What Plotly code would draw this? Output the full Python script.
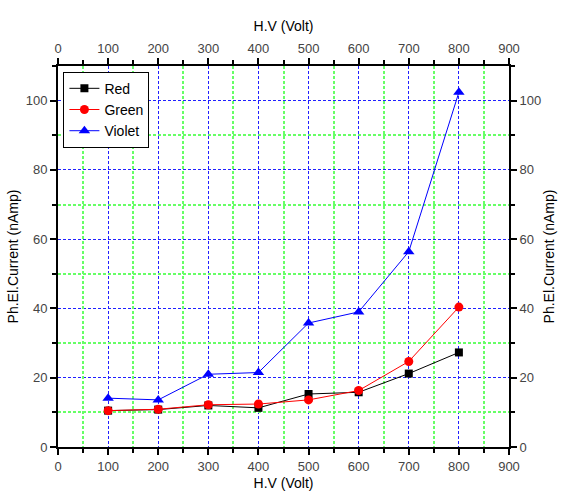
import plotly.graph_objects as go

hv = [100, 200, 300, 400, 500, 600, 700, 800]
red = [10.5, 10.8, 12.0, 11.3, 15.3, 15.8, 21.2, 27.3]
green = [10.5, 10.9, 12.2, 12.4, 13.6, 16.3, 24.7, 40.4]
violet = [14.1, 13.6, 21.0, 21.5, 35.8, 39.0, 56.4, 102.4]

fig = go.Figure()
fig.add_trace(go.Scatter(x=[0], y=[0], xaxis="x3", yaxis="y3", showlegend=False,
                         mode="markers", marker=dict(opacity=0), hoverinfo="skip"))
fig.add_trace(go.Scatter(x=[0], y=[0], xaxis="x2", yaxis="y2", showlegend=False,
                         mode="markers", marker=dict(opacity=0), hoverinfo="skip"))
fig.add_trace(go.Scatter(x=hv, y=red, name="Red", mode="lines+markers",
                         line=dict(color="black", width=1),
                         marker=dict(symbol="square", size=8, color="black")))
fig.add_trace(go.Scatter(x=hv, y=green, name="Green", mode="lines+markers",
                         line=dict(color="red", width=1),
                         marker=dict(symbol="circle", size=9, color="red")))
fig.add_trace(go.Scatter(x=hv, y=violet, name="Violet", mode="lines+markers",
                         line=dict(color="blue", width=1),
                         marker=dict(symbol="triangle-up", size=10, color="blue")))

FAM = "Liberation Sans, Arial, sans-serif"
font = dict(family=FAM, size=14, color="black")
tickfont = dict(family=FAM, size=13, color="#444")
GREEN = "#66ff66"
BLUE = "#2020ff"
DASH = "3px,2px"


def xa(grid, **kw):
    d = dict(range=[0, 900], dtick=100, tick0=0, showline=True, linecolor="black",
             linewidth=2, ticks="outside", ticklen=6, tickwidth=2, tickcolor="black",
             tickfont=tickfont, zeroline=False,
             title=dict(text="H.V (Volt)", font=font, standoff=6),
             showgrid=grid, gridcolor=BLUE, griddash=DASH, gridwidth=1,
             minor=dict(dtick=50, ticks="outside", ticklen=4, tickwidth=2, tickcolor="black",
                        showgrid=False))
    d.update(kw)
    return d


def ya(grid, **kw):
    d = dict(range=[0, 110], dtick=20, tick0=0, showline=True, linecolor="black",
             linewidth=2, ticks="outside", ticklen=6, tickwidth=2, tickcolor="black",
             tickfont=tickfont, zeroline=False,
             title=dict(text="Ph.El.Current (nAmp)", font=font, standoff=4),
             showgrid=grid, gridcolor=BLUE, griddash=DASH, gridwidth=1,
             minor=dict(dtick=10, ticks="outside", ticklen=4, tickwidth=2, tickcolor="black",
                        showgrid=False))
    d.update(kw)
    return d


fig.update_layout(
    width=567, height=502,
    margin=dict(l=55, r=52, t=66, b=55),
    paper_bgcolor="white", plot_bgcolor="white",
    font=font,
    xaxis=xa(True),
    yaxis=ya(True),
    xaxis2=xa(False, overlaying="x", side="top"),
    yaxis2=ya(False, overlaying="y", side="right"),
    xaxis3=dict(range=[0, 900], tick0=50, dtick=100, overlaying="x", showticklabels=False,
                ticks="", showline=False, zeroline=False, showgrid=True,
                gridcolor=GREEN, griddash=DASH, gridwidth=2),
    yaxis3=dict(range=[0, 110], tick0=10, dtick=20, overlaying="y", showticklabels=False,
                ticks="", showline=False, zeroline=False, showgrid=True,
                gridcolor=GREEN, griddash=DASH, gridwidth=2),
    legend=dict(x=0.012, y=0.985, xanchor="left", yanchor="top",
                bgcolor="white", bordercolor="black", borderwidth=1,
                font=dict(family=FAM, size=14, color="black"),
                tracegroupgap=0, itemwidth=30, traceorder="normal"),
    showlegend=True,
    shapes=[dict(type="rect", xref="paper", yref="paper", x0=0.017, x1=0.098,
                 y0=0.924, y1=0.979, line=dict(color="red", width=1), layer="above")],
)

fig.write_html("out.html")
